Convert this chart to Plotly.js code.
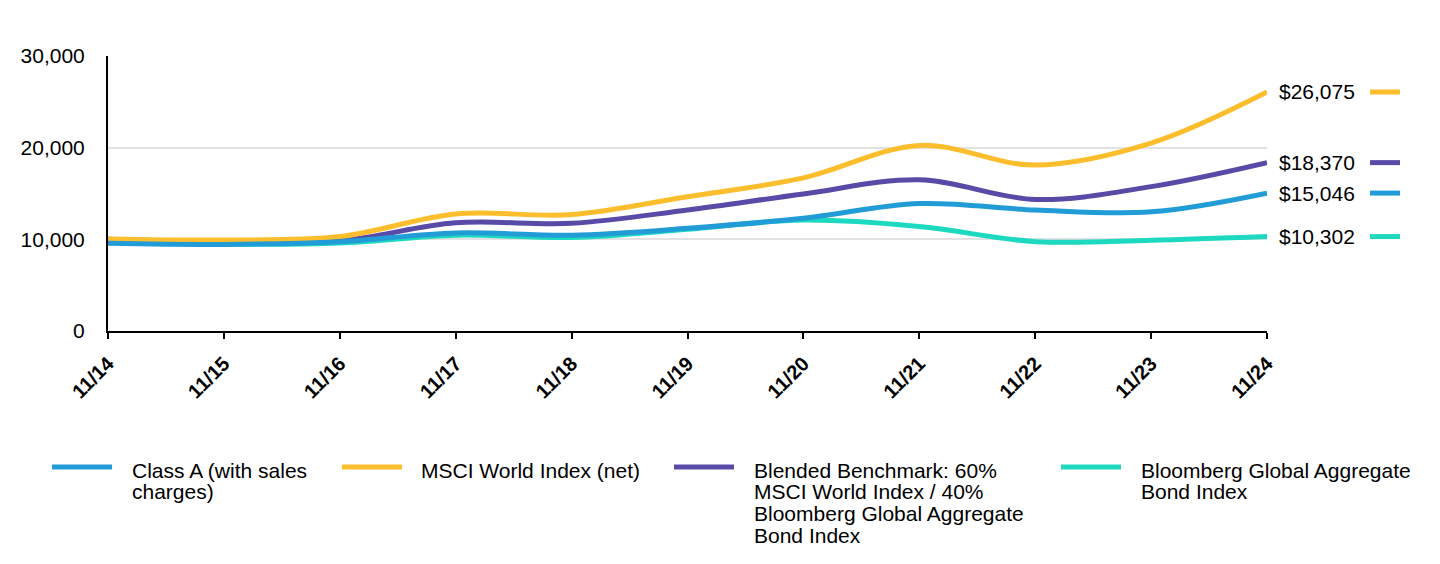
<!DOCTYPE html>
<html>
<head>
<meta charset="utf-8">
<script src="https://cdn.plot.ly/plotly-3.0.1.min.js"></script>
<style>
  html, body { margin: 0; padding: 0; background: #fff; }
  #chart { width: 1440px; height: 564px; }
</style>
</head>
<body>
<div id="chart"></div>
<script>
// ---- data ----
var categories = ['11/14','11/15','11/16','11/17','11/18','11/19','11/20','11/21','11/22','11/23','11/24'];
var classA     = [9575, 9450, 9750, 10700, 10450, 11200, 12300, 13900, 13200, 13000, 15046];
var msciWorld  = [10050, 9930, 10300, 12760, 12700, 14650, 16700, 20250, 18100, 20500, 26075];
var blended    = [10000, 9700, 9850, 11800, 11750, 13200, 14950, 16500, 14350, 15750, 18370];
var bloomberg  = [9950, 9500, 9600, 10450, 10200, 11100, 12100, 11400, 9750, 9900, 10302];
var seriesNames = ['Class A (with sales<br>charges)', 'MSCI World Index (net)',
                   'Blended Benchmark: 60%<br>MSCI World Index / 40%<br>Bloomberg Global Aggregate<br>Bond Index',
                   'Bloomberg Global Aggregate<br>Bond Index'];
var seriesColors = ['#229CD7', '#FDBE2D', '#574BA7', '#1DD9C0'];
var yTicks = [0, 10000, 20000, 30000];
var yTickLabels = ['0', '10,000', '20,000', '30,000'];

// ---- layout geometry ----
var M = {l: 108, r: 173, t: 56, b: 233};
var W = 1440 - M.l - M.r, H = 564 - M.t - M.b;
function px2x(p) { return (p - M.l) / W; }
function py2y(p) { return (M.t + H - p) / H; }

var FONT = 'Liberation Sans, Arial, sans-serif';
var seriesData = [classA, msciWorld, blended, bloomberg];
var xIdx = categories.map(function (c, i) { return i; });

// draw order: bond index first, Class A last (on top)
var order = [3, 2, 1, 0];
var traces = order.map(function (k) {
  return {
    x: xIdx, y: seriesData[k], type: 'scatter', mode: 'lines',
    name: seriesNames[k].replace(/<br>/g, ' '),
    line: {color: seriesColors[k], width: 5, shape: 'spline', smoothing: 1},
    hoverinfo: 'skip', showlegend: false
  };
});

var annotations = [];
var shapes = [];

// end-value labels + swatches on the right
seriesData.forEach(function (s, k) {
  var last = s[s.length - 1];
  annotations.push({
    xref: 'paper', yref: 'y', x: 1, y: last, xanchor: 'left', yanchor: 'middle',
    xshift: 10, text: '$' + last.toLocaleString('en-US'), showarrow: false,
    font: {family: FONT, size: 21, color: '#000'}
  });
  shapes.push({
    type: 'line', xref: 'paper', yref: 'y', x0: px2x(1370), x1: px2x(1400), y0: last, y1: last,
    line: {color: seriesColors[k], width: 5}
  });
});

// manual legend
var legendSwatchX = [52, 342, 674, 1061];
var legendTextX = [130, 419, 752, 1139];
var legendTop = 470, lineGap = 21.7;
seriesNames.forEach(function (nm, k) {
  shapes.push({
    type: 'line', xref: 'paper', yref: 'paper',
    x0: px2x(legendSwatchX[k]), x1: px2x(legendSwatchX[k] + 60),
    y0: py2y(467), y1: py2y(467),
    line: {color: seriesColors[k], width: 5}
  });
  nm.split('<br>').forEach(function (ln, j) {
    annotations.push({
      xref: 'paper', yref: 'paper', x: px2x(legendTextX[k]), y: py2y(legendTop + j * lineGap),
      xanchor: 'left', yanchor: 'middle', text: ln, showarrow: false,
      font: {family: FONT, size: 21, color: '#000'}
    });
  });
});

var layout = {
  width: 1440, height: 564,
  margin: M,
  paper_bgcolor: '#fff', plot_bgcolor: '#fff',
  showlegend: false,
  xaxis: {
    type: 'linear', range: [0, categories.length - 1],
    tickvals: xIdx, ticktext: categories, tickangle: -45,
    tickfont: {family: FONT, size: 20, color: '#000', weight: 'bold'},
    ticks: 'outside', ticklen: 6, tickwidth: 2, tickcolor: '#000',
    ticklabelstandoff: 5,
    showline: true, linecolor: '#000', linewidth: 2,
    showgrid: false, zeroline: false, fixedrange: true
  },
  yaxis: {
    range: [0, 30000], tickvals: yTicks, ticktext: yTickLabels,
    tickfont: {family: FONT, size: 21, color: '#000'},
    ticks: '', ticklabelstandoff: 17,
    showline: true, linecolor: '#000', linewidth: 2,
    showgrid: true, gridcolor: '#e2e2e2', gridwidth: 2,
    zeroline: false, fixedrange: true
  },
  annotations: annotations,
  shapes: shapes
};

Plotly.newPlot('chart', traces, layout, {displayModeBar: false, staticPlot: true});
</script>
</body>
</html>
